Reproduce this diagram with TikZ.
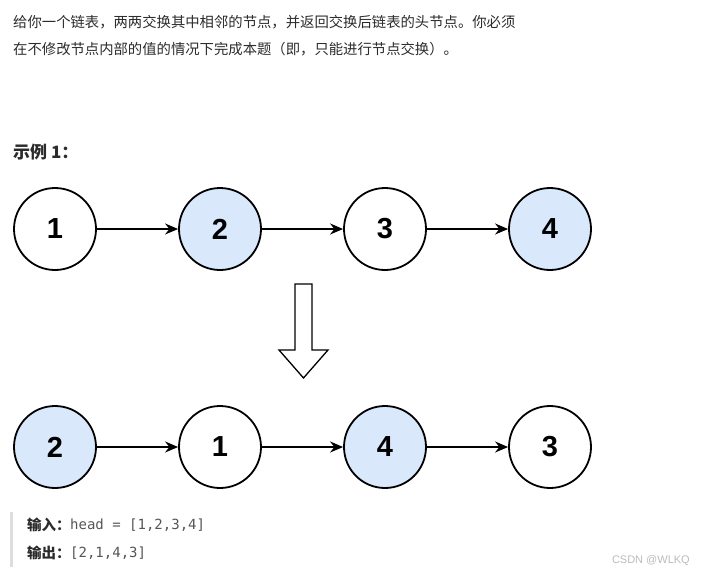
\documentclass[tikz,border=0pt]{standalone}
\usepackage{fontspec}
\setmainfont{Liberation Sans}
\newfontfamily\cjk{Noto Sans CJK SC}
\newfontfamily\codefont{DejaVu Sans Mono}
\usetikzlibrary{arrows.meta,positioning}
\definecolor{txtgray}{HTML}{2B2B2B}
\definecolor{codegray}{HTML}{555555}
\definecolor{nodeblue}{HTML}{DAE8FC}
\definecolor{barGray}{HTML}{DDDDDD}
\definecolor{markgray}{HTML}{BBBBBB}

\begin{document}
\begin{tikzpicture}[x=1pt,y=-1pt,>={Stealth[length=13pt,width=11pt]}]
\tikzstyle{lnode}=[draw,circle,line width=1.8pt,minimum size=82pt,inner sep=0pt,font=\fontsize{29}{30}\selectfont\bfseries]
\tikzstyle{lnodeB}=[lnode,fill=nodeblue]
\tikzstyle{lnodeW}=[lnode,fill=white]
\tikzstyle{link}=[->,line width=1.8pt]
\tikzstyle{para}=[anchor=west,inner sep=0pt,text=txtgray,font=\cjk\fontsize{14.35}{17}\selectfont]
\tikzstyle{lbl}=[para,font=\cjk\fontsize{14.5}{17}\selectfont\bfseries]
\tikzstyle{code}=[anchor=west,inner sep=0pt,text=codegray,font=\codefont\fontsize{14}{16}\selectfont]
\useasboundingbox (0,0) rectangle (702,574);
% problem statement
\node[para] (line1) at (13,22) {给你一个链表，两两交换其中相邻的节点，并返回交换后链表的头节点。你必须};
\node[para] (line2) at (13,49) {在不修改节点内部的值的情况下完成本题（即，只能进行节点交换）。};
\node[para,font=\cjk\fontsize{17}{19}\selectfont\bfseries] (title) at (13,152) {示例 1：};
% before swap
\foreach \st/\v [count=\i] in {lnodeW/1, lnodeB/2, lnodeW/3, lnodeB/4} {
  \node[\st] (a\i) at (55+165*\i-165,229) {\v};
}
\foreach \i in {1,2,3} {\pgfmathtruncatemacro\j{\i+1} \draw[link] (a\i.east) -- (a\j.west);}
% hollow arrow
\draw[line width=1.3pt,line join=miter,fill=white] (295,284) -- (312,284) -- (312,350) -- (328,350) -- (303.5,378) -- (279,350) -- (295,350) -- cycle;
% after swap
\foreach \st/\v [count=\i] in {lnodeB/2, lnodeW/1, lnodeB/4, lnodeW/3} {
  \node[\st] (b\i) at (55+165*\i-165,447) {\v};
}
\foreach \i in {1,2,3} {\pgfmathtruncatemacro\j{\i+1} \draw[link] (b\i.east) -- (b\j.west);}
% input / output
\fill[barGray] (10,512) rectangle (13,567);
\node[lbl] (inLbl) at (27,525) {输入：};
\node[code] (inVal) at (70,525) {head = [1,2,3,4]};
\node[lbl] (outLbl) at (27,553) {输出：};
\node[code] (outVal) at (70,553) {[2,1,4,3]};
\node[anchor=east,inner sep=0pt,text=markgray,font=\fontsize{11}{12}\selectfont] (mark) at (690,561) {CSDN @WLKQ};
\end{tikzpicture}
\end{document}
